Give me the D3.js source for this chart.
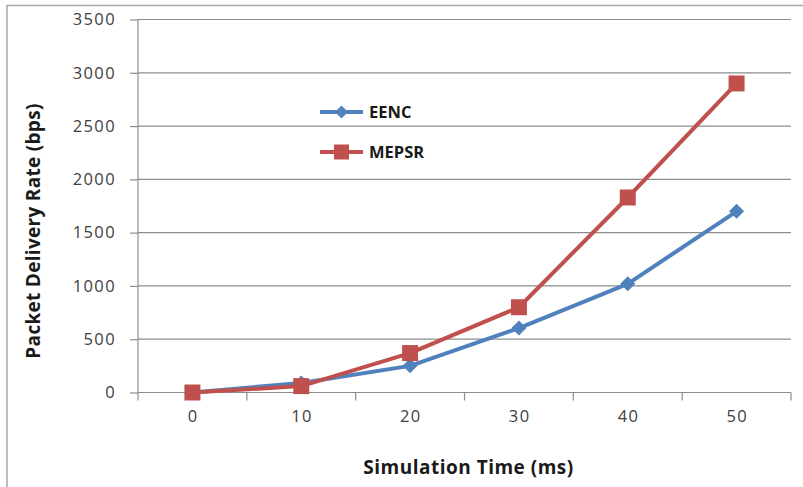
<!DOCTYPE html>
<html><head><meta charset="utf-8">
<script src="https://cdn.jsdelivr.net/npm/d3@7"></script>
<style>body{margin:0;background:#fff;}svg{display:block;}</style>
</head><body>
<svg id="c" width="803" height="487"></svg>
<script>
const categories = ["0","10","20","30","40","50"];
const eenc = [0, 90, 250, 605, 1020, 1700];
const mepsr = [0, 60, 370, 800, 1830, 2900];
const yTicks = [0,500,1000,1500,2000,2500,3000,3500];
const seriesNames = ["EENC","MEPSR"];

const svg = d3.select("#c");
const font = "'Open Sans', Lato, sans-serif";
const L = 138, R = 791, T = 19.5, B = 392.5;
const x = d3.scaleBand().domain(categories).range([L, R]);
const y = d3.scaleLinear().domain([0, 3500]).range([B, T]);
const colors = ["#4F81BD", "#C0504D"];

// outer border
svg.append("rect").attr("x",7).attr("y",5.5).attr("width",820).attr("height",500)
  .attr("fill","none").attr("stroke","#a6a6a6").attr("stroke-width",1.5);

// gridlines
svg.append("g").selectAll("line").data(yTicks.filter(d=>d>0)).join("line")
  .attr("x1",L).attr("x2",R).attr("y1",d=>y(d)).attr("y2",d=>y(d))
  .attr("stroke","#8c8c8c").attr("stroke-width",1.2);

// y axis
const ya = svg.append("g").attr("transform",`translate(${L},0)`)
  .call(d3.axisLeft(y).tickValues(yTicks).tickFormat(d3.format("d")).tickSize(8).tickPadding(14));
ya.select(".domain").attr("stroke","#8c8c8c").attr("stroke-width",1.2).attr("d",`M0,${T}V${B}`);
ya.selectAll(".tick line").attr("stroke","#8c8c8c").attr("stroke-width",1.2);
ya.selectAll("text").attr("font-family",font).attr("font-size",16.5).attr("letter-spacing","1.4px").attr("fill","#404040");

// x axis
const xa = svg.append("g").attr("transform",`translate(0,${B})`)
  .call(d3.axisBottom(x).tickSize(0).tickPadding(29));
xa.select(".domain").attr("stroke","#8c8c8c").attr("stroke-width",1.2).attr("d",`M${L},0H${R}`);
xa.selectAll("text").attr("font-family",font).attr("font-size",16.5).attr("letter-spacing","1.4px").attr("fill","#404040").attr("dy","0").attr("dx","0.7");
// boundary ticks
const bounds = categories.map(c=>x(c)).concat([R]);
svg.append("g").selectAll("line").data(bounds).join("line")
  .attr("x1",d=>d).attr("x2",d=>d).attr("y1",B).attr("y2",B+8)
  .attr("stroke","#8c8c8c").attr("stroke-width",1.2);

// lines
const cx = c => x(c) + x.bandwidth()/2;
const line = d3.line().x((d,i)=>cx(categories[i])).y(d=>y(d));
[eenc, mepsr].forEach((s,k)=>{
  svg.append("path").attr("d",line(s)).attr("fill","none")
    .attr("stroke",colors[k]).attr("stroke-width",4).attr("stroke-linejoin","round");
});
// markers
svg.append("g").selectAll("path").data(eenc).join("path")
  .attr("d",(d,i)=>{const X=cx(categories[i]),Y=y(d),r=7.5;return `M${X},${Y-r}L${X+r},${Y}L${X},${Y+r}L${X-r},${Y}Z`;})
  .attr("fill",colors[0]);
svg.append("g").selectAll("rect").data(mepsr).join("rect")
  .attr("x",(d,i)=>cx(categories[i])-8).attr("y",d=>y(d)-8).attr("width",16).attr("height",16)
  .attr("fill",colors[1]);

// legend
const lg = svg.append("g");
seriesNames.forEach((n,k)=>{
  const ly = 112 + k*40;
  lg.append("line").attr("x1",320).attr("x2",363).attr("y1",ly).attr("y2",ly)
    .attr("stroke",colors[k]).attr("stroke-width",4);
  if(k===0){
    const X=341.5,r=6.5;
    lg.append("path").attr("d",`M${X},${ly-r}L${X+r},${ly}L${X},${ly+r}L${X-r},${ly}Z`).attr("fill",colors[k]);
  } else {
    lg.append("rect").attr("x",334).attr("y",ly-7.5).attr("width",15).attr("height",15).attr("fill",colors[k]);
  }
  lg.append("text").attr("x",369).attr("y",ly).attr("dy","0.36em")
    .attr("font-family",font).attr("font-weight","bold").attr("font-size",16.5).attr("fill","#1a1a1a").text(n);
});

// titles
svg.append("text").attr("x",468.5).attr("y",467).attr("dy","0.36em").attr("text-anchor","middle")
  .attr("font-family",font).attr("font-weight","bold").attr("font-size",19).attr("letter-spacing","0.5px").attr("fill","#1a1a1a")
  .text("Simulation Time (ms)");
svg.append("text").attr("transform","translate(33,231) rotate(-90)").attr("dy","0.36em").attr("text-anchor","middle")
  .attr("font-family",font).attr("font-weight","bold").attr("font-size",19).attr("letter-spacing","0.3px").attr("fill","#1a1a1a")
  .text("Packet Delivery Rate (bps)");
</script>
</body></html>
